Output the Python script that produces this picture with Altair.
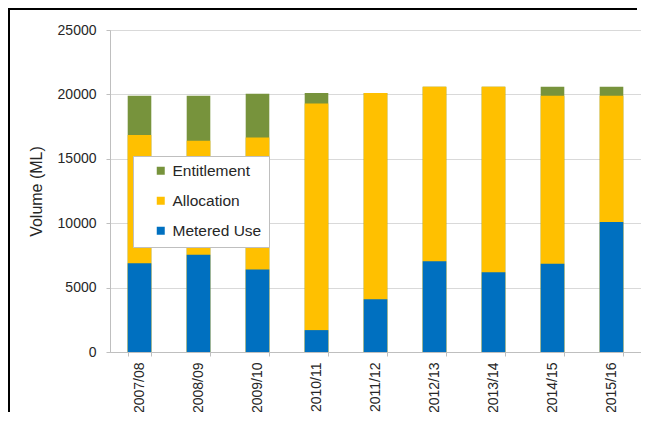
import altair as alt
import pandas as pd

years = ["2007/08", "2008/09", "2009/10", "2010/11", "2011/12",
         "2012/13", "2013/14", "2014/15", "2015/16"]
entitlement = [19900, 19900, 20050, 20100, 20100, 20600, 20600, 20600, 20600]
allocation = [16850, 16400, 16650, 19300, 20100, 20600, 20600, 19900, 19900]
metered_use = [6900, 7550, 6400, 1700, 4100, 7050, 6200, 6850, 10100]

series = ["Entitlement", "Allocation", "Metered Use"]
colors = ["#77933C", "#FFC000", "#0070C0"]
y_ticks = [0, 5000, 10000, 15000, 20000, 25000]

rows = []
for i, yr in enumerate(years):
    for rank, (s, vals) in enumerate(zip(series, [entitlement, allocation, metered_use])):
        rows.append({"year": yr, "series": s, "value": vals[i], "rank": rank})
df = pd.DataFrame(rows)

FONT = "Liberation Sans"
TXT = "#262626"
W, H = 531, 322
PL, PT, PR, PB = 102, 22, 0, 60

bars = alt.Chart(df).mark_bar().encode(
    x=alt.X("year:N", sort=years, title=None,
            scale=alt.Scale(paddingInner=0.6, paddingOuter=0.3),
            axis=alt.Axis(labelAngle=-90, tickBand="extent", tickSize=4,
                          labelPadding=6, labelFontSize=14, grid=False)),
    y=alt.Y("value:Q", stack=None, title="Volume (ML)",
            scale=alt.Scale(domain=[0, 25000], nice=False),
            axis=alt.Axis(values=y_ticks, format="d", tickSize=4, labelPadding=10,
                          labelFontSize=14, titleFontSize=16, titlePadding=13,
                          titleFontWeight="normal")),
    color=alt.Color("series:N",
                    scale=alt.Scale(domain=series, range=colors),
                    legend=alt.Legend(title=None, orient="none", legendX=23, legendY=126,
                                      fillColor="white", strokeColor="#bfbfbf",
                                      padding=7, symbolOffset=13, labelOffset=4,
                                      symbolType="square", symbolSize=64,
                                      symbolStrokeWidth=0, rowPadding=13,
                                      labelFontSize=15.5, labelFont=FONT,
                                      labelColor=TXT)),
    order=alt.Order("rank:Q"),
)

frame_left = alt.Chart(alt.Data(values=[{}])).mark_rule(color="black", strokeWidth=2).encode(
    x=alt.value(-PL + 1), y=alt.value(-PT), y2=alt.value(H + PB))
frame_top = alt.Chart(alt.Data(values=[{}])).mark_rule(color="black", strokeWidth=2).encode(
    x=alt.value(-PL), x2=alt.value(W + PR - 4), y=alt.value(-PT + 1))

chart = alt.layer(bars, frame_left, frame_top).properties(
    width=W, height=H,
    padding={"left": PL, "top": PT, "right": PR, "bottom": PB},
    autosize=alt.AutoSizeParams(type="none"),
).configure_view(
    stroke="#d9d9d9", strokeWidth=1
).configure_axis(
    labelFont=FONT, titleFont=FONT, labelColor=TXT, titleColor=TXT,
    domainColor="#bfbfbf", tickColor="#bfbfbf", gridColor="#d9d9d9",
)

chart.save("out.html", embed_options={"renderer": "svg", "actions": False})
